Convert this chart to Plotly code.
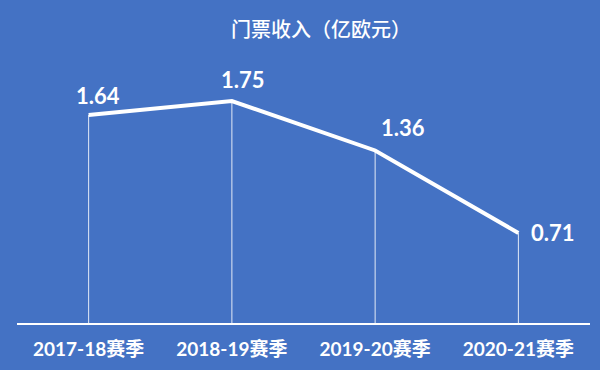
import plotly.graph_objects as go

seasons = ["2017-18赛季", "2018-19赛季", "2019-20赛季", "2020-21赛季"]
revenue = [1.64, 1.75, 1.36, 0.71]
value_labels = ["1.64", "1.75", "1.36", "0.71"]

# label offsets (styling, px)
label_dx = [9, 11, 28, 35]
label_dy = [19, 22, 23, 0]

BG = "#4472C4"
x = list(range(len(seasons)))

fig = go.Figure()
fig.add_trace(go.Scatter(
    x=x, y=revenue, mode="lines",
    line=dict(color="white", width=4),
    error_y=dict(type="data", symmetric=False, array=[0] * len(revenue),
                 arrayminus=revenue, width=0, thickness=1,
                 color="rgba(255,255,255,0.85)"),
    hoverinfo="skip", showlegend=False,
))

for xi, v, t, dx, dy in zip(x, revenue, value_labels, label_dx, label_dy):
    fig.add_annotation(x=xi, y=v, text=t, showarrow=False,
                       xshift=dx, yshift=dy,
                       font=dict(family="Lato, Noto Sans CJK SC", size=22,
                                 color="white", weight="bold"))

fig.update_layout(
    width=600, height=370,
    paper_bgcolor=BG, plot_bgcolor=BG,
    margin=dict(l=17, r=10, t=49, b=40),
    title=dict(text="门票收入（亿欧元）", x=0.535, xanchor="center",
               y=1 - 30 / 370, yanchor="middle",
               font=dict(family="Noto Sans CJK SC", size=20, color="white",
                         weight=500)),
    xaxis=dict(tickmode="array", tickvals=x, ticktext=seasons,
               range=[-0.5, len(seasons) - 0.5],
               showgrid=False, zeroline=False,
               showline=True, linecolor="white", linewidth=1.5,
               ticks="", ticklabelstandoff=8,
               tickfont=dict(family="Lato, Noto Sans CJK SC", size=19,
                             color="white", weight="bold")),
    yaxis=dict(range=[0, 2.16], visible=False, showgrid=False, zeroline=False),
)

fig.write_html(
    "out.html",
    config={"displayModeBar": False},
    post_script="document.body.style.margin='0px';"
                "document.body.style.background='" + BG + "';",
)
